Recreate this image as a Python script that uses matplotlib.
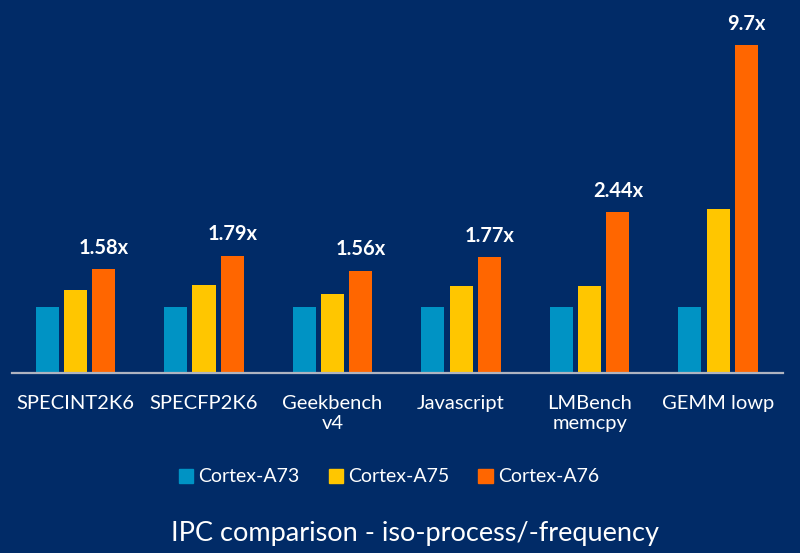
import numpy as np
import matplotlib
matplotlib.use("Agg")
import matplotlib.pyplot as plt
from matplotlib.patches import Patch

plt.rcParams["font.family"] = ["Lato", "DejaVu Sans"]

categories = ["SPECINT2K6", "SPECFP2K6", "Geekbench\nv4", "Javascript",
              "LMBench\nmemcpy", "GEMM lowp"]
cores = ["Cortex-A73", "Cortex-A75", "Cortex-A76"]
a73 = [1.0, 1.0, 1.0, 1.0, 1.0, 1.0]
a75 = [1.27, 1.34, 1.21, 1.33, 1.33, 2.50]
a76 = [1.58, 1.79, 1.56, 1.77, 2.45, 5.01]   # GEMM bar is drawn shortened
gain_labels = ["1.58x", "1.79x", "1.56x", "1.77x", "2.44x", "9.7x"]

bg = "#012b67"
colors = ["#0093c4", "#ffc600", "#ff6600"]

fig = plt.figure(figsize=(8, 5.53), dpi=100, facecolor=bg)
ax = fig.add_axes([0.015, 0.326, 0.964, 0.638], facecolor=bg)

x = np.arange(len(categories))
step = 0.22
width = 0.18
for i, (vals, c) in enumerate(zip([a73, a75, a76], colors)):
    ax.bar(x + (i - 1) * step, vals, width, color=c, label=cores[i])

for xi, v, lab in zip(x, a76, gain_labels):
    ax.annotate(lab, (xi + step, v), xytext=(0, 8), textcoords="offset points",
                ha="center", va="bottom", color="white", fontsize=14.5,
                fontweight="bold")

ax.set_xlim(-0.494, 5.506)
ax.set_ylim(0, 5.39)
for s in ["top", "right", "left"]:
    ax.spines[s].set_visible(False)
ax.spines["bottom"].set_color("#b0b4c0")
ax.spines["bottom"].set_linewidth(1.6)
ax.set_yticks([])
ax.set_xticks(x)
ax.set_xticklabels(categories, color="white", fontsize=14.5, linespacing=1.25,
                   va="top")
ax.tick_params(axis="x", length=0, pad=16)

handles = [Patch(color=c) for c in colors]
fig.legend(handles, cores, loc="center", bbox_to_anchor=(0.486, 0.1375),
           ncol=3, frameon=False, fontsize=14, labelcolor="white",
           handlelength=0.75, handleheight=0.75, handletextpad=0.25,
           columnspacing=1.5)

fig.text(0.519, 0.0222, "IPC comparison - iso-process/-frequency",
         ha="center", va="baseline", color="white", fontsize=19.5)

fig.savefig("out.png", dpi=100, facecolor=bg)
